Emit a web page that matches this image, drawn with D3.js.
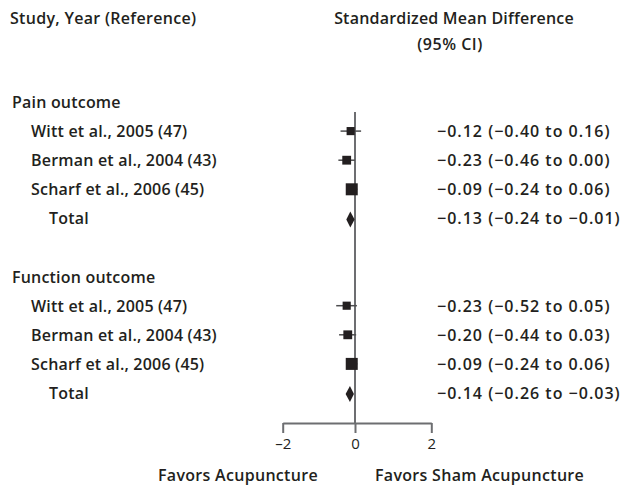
<!DOCTYPE html>
<html>
<head>
<meta charset="utf-8">
<script src="https://cdn.jsdelivr.net/npm/d3@7"></script>
<style>
  body { margin: 0; background: #fff; }
  text { font-family: "Open Sans", "Noto Sans", sans-serif; font-weight: 600; fill: #231f20; }
</style>
</head>
<body>
<div id="chart"></div>
<script>
// forest plot data
const studies = ["Witt et al., 2005 (47)", "Berman et al., 2004 (43)", "Scharf et al., 2006 (45)", "Total"];
const groups = ["Pain outcome", "Function outcome"];
const painSmd = [-0.12, -0.23, -0.09, -0.13];
const painLow = [-0.40, -0.46, -0.24, -0.24];
const painHigh = [0.16, 0.00, 0.06, -0.01];
const funcSmd = [-0.23, -0.20, -0.09, -0.14];
const funcLow = [-0.52, -0.44, -0.24, -0.26];
const funcHigh = [0.05, 0.03, 0.06, -0.03];
const weights = [23, 27, 50]; // approx study weight (%), sets square size
const xTicks = [-2, 0, 2];

const width = 622, height = 485;

const svg = d3.select("#chart").append("svg")
  .attr("width", width)
  .attr("height", height);

// build rows
const rows = [];
groups.forEach((g, gi) => {
  rows.push({ idx: gi * 6, label: g, type: "header" });
  const smd = gi == 0 ? painSmd : funcSmd;
  const lo = gi == 0 ? painLow : funcLow;
  const hi = gi == 0 ? painHigh : funcHigh;
  studies.forEach((s, si) => {
    rows.push({
      idx: gi * 6 + 1 + si,
      label: s,
      type: si == 3 ? "total" : "study",
      smd: smd[si], lo: lo[si], hi: hi[si],
      w: weights[si]
    });
  });
});

const x = d3.scaleLinear().domain([-2, 0, 2]).range([282.7, 355, 431.3]);
const y = d3.scaleLinear().domain([0, 10]).range([102, 393]);
const size = d3.scaleSqrt().domain([0, 50]).range([0, 12]);

const fmt = d3.format(".2f");
const f = v => fmt(v).replace("-", "\u2013");

// headers
svg.append("text").attr("x", 10).attr("y", 24).style("font-size", "16px").style("letter-spacing", "0.3px")
  .text("Study, Year (Reference)");
svg.append("text").attr("x", 454).attr("y", 24).attr("text-anchor", "middle").style("font-size", "16px").style("letter-spacing", "0.2px")
  .text("Standardized Mean Difference");
svg.append("text").attr("x", 450).attr("y", 50).attr("text-anchor", "middle").style("font-size", "16px").style("letter-spacing", "0.5px")
  .text("(95% CI)");

// zero line
svg.append("line")
  .attr("x1", x(0)).attr("x2", x(0))
  .attr("y1", 112).attr("y2", 423)
  .attr("stroke", "#6d6e71").attr("stroke-width", 2);

// axis
const axis = svg.append("g")
  .attr("transform", "translate(0,423)")
  .call(d3.axisBottom(x).tickValues(xTicks).tickSize(10).tickSizeOuter(0).tickFormat(d => d < 0 ? "\u2013" + Math.abs(d) : d));
axis.select(".domain").attr("stroke", "#6d6e71").attr("stroke-width", 2);
axis.selectAll(".tick line").attr("stroke", "#6d6e71").attr("stroke-width", 2);
axis.selectAll(".tick text")
  .attr("y", 15)
  .style("font-size", "15px")
  .style("font-weight", "400")
  .style("font-family", "'Open Sans', sans-serif")
  .attr("fill", "#231f20");

svg.append("text").attr("x", 158).attr("y", 481).style("font-size", "16px").style("letter-spacing", "0.3px").text("Favors Acupuncture");
svg.append("text").attr("x", 375).attr("y", 481).style("font-size", "16px").style("letter-spacing", "0.3px").text("Favors Sham Acupuncture");

// row labels
svg.selectAll(".rowlabel")
  .data(rows)
  .enter()
  .append("text")
  .attr("class", "rowlabel")
  .attr("x", d => d.type == "header" ? 12 : d.type == "study" ? 31 : 49)
  .attr("y", d => y(d.idx) + 6)
  .style("font-size", "16px")
  .style("letter-spacing", "0.2px")
  .text(d => d.label);

const data = rows.filter(d => d.type != "header");

// estimate text
svg.selectAll(".est")
  .data(data)
  .enter()
  .append("text")
  .attr("class", "est")
  .attr("x", 437)
  .attr("y", d => y(d.idx) + 6)
  .style("font-size", "16px")
  .style("letter-spacing", "1px")
  .text(d => f(d.smd) + " (" + f(d.lo) + " to " + f(d.hi) + ")");

const st = data.filter(d => d.type == "study");

// CI lines
svg.selectAll(".ci")
  .data(st)
  .enter()
  .append("line")
  .attr("x1", d => x(d.lo)).attr("x2", d => x(d.hi))
  .attr("y1", d => y(d.idx)).attr("y2", d => y(d.idx))
  .attr("stroke", "#4d4d4f").attr("stroke-width", 1.5);

// squares
svg.selectAll(".sq")
  .data(st)
  .enter()
  .append("rect")
  .attr("x", d => x(d.smd) - size(d.w) / 2)
  .attr("y", d => y(d.idx) - size(d.w) / 2)
  .attr("width", d => size(d.w))
  .attr("height", d => size(d.w))
  .attr("fill", "#231f20");

// diamonds
svg.selectAll(".dia")
  .data(data.filter(d => d.type == "total"))
  .enter()
  .append("path")
  .attr("d", d => {
    const cy = y(d.idx) + 1;
    return "M" + x(d.lo) + "," + cy + "L" + x(d.smd) + "," + (cy - 8) +
      "L" + x(d.hi) + "," + cy + "L" + x(d.smd) + "," + (cy + 8) + "Z";
  })
  .attr("fill", "#231f20");
</script>
</body>
</html>
